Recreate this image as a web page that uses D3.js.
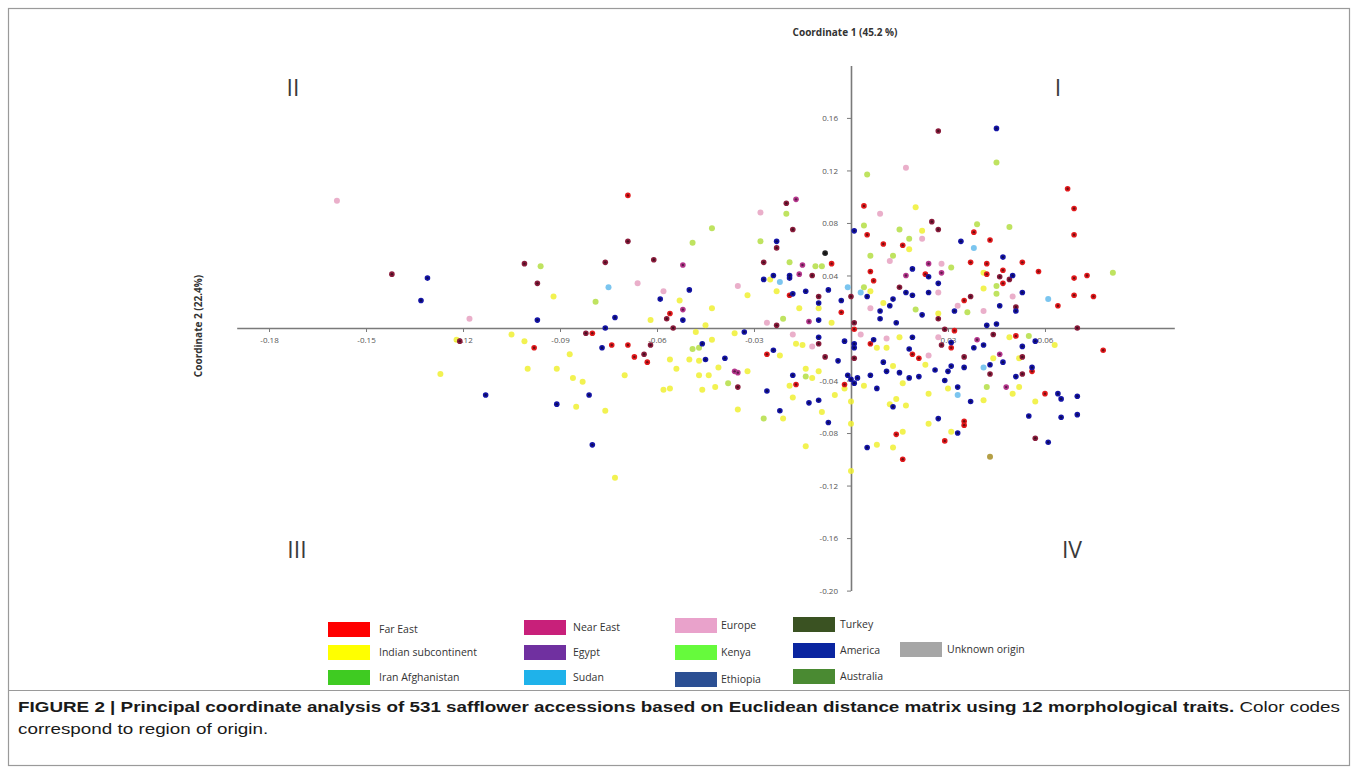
<!DOCTYPE html>
<html>
<head>
<meta charset="utf-8">
<script src="https://cdn.jsdelivr.net/npm/d3@7"></script>
<style>
  body { margin: 0; background: #fff; }
  svg { display: block; }
</style>
</head>
<body>
<svg id="chart" width="1358" height="775"></svg>
<script>
// tick labels of the two coordinate axes
var xTicks = [-0.18, -0.15, -0.12, -0.09, -0.06, -0.03, 0.03, 0.06];
var yTicks = [0.16, 0.12, 0.08, 0.04, -0.04, -0.08, -0.12, -0.16, -0.20];

// legend entries (region of origin)
var regions = ["Far East", "Indian subcontinent", "Iran Afghanistan",
               "Near East", "Egypt", "Sudan",
               "Europe", "Kenya", "Ethiopia",
               "Turkey", "America", "Australia",
               "Unknown origin"];
var regionColors = ["#ff0000", "#ffff00", "#3fcb22",
                    "#c8207a", "#7030a0", "#1fb2ea",
                    "#e9a2cb", "#66fa3c", "#2b4f93",
                    "#3a5222", "#0a25a0", "#4a8a32",
                    "#a6a6a6"];

// PCoA scores, [coord1, coord2]
var farEast = [[-0.098,-0.015],[-0.080,-0.004],[-0.074,-0.013],[-0.069,-0.013],[-0.067,-0.022],[-0.063,-0.026],[-0.069,0.101],[-0.056,0.011],
  [0.067,0.106],[0.069,0.091],[0.069,0.071],[0.069,0.038],[0.073,0.040],[0.069,0.025],[0.075,0.024],[0.064,0.017],[0.058,0.043],[0.053,0.050],
  [0.047,0.044],[0.047,0.034],[0.043,0.067],[0.042,0.049],[0.042,0.041],[0.038,0.073],[0.037,0.050],[0.035,0.021],[0.023,0.041],[0.016,0.063],
  [0.004,0.093],[0.005,0.071],[0.010,0.064],[0.006,0.043],[0.007,0.036],[-0.006,0.049],[-0.019,0.025],[-0.003,0.012],
  [-0.026,-0.020],[0.001,-0.001],[-0.017,-0.043],[-0.002,-0.043],[0.014,-0.081],[0.016,-0.100],[0.006,-0.012],[0.019,-0.020],[0.021,-0.023],
  [0.029,-0.086],[0.035,-0.074],[0.035,-0.071],[0.031,-0.015],[0.032,-0.002],[0.051,-0.006],[0.056,-0.033],[0.060,-0.050],[0.078,-0.017]];
var nearEast = [[-0.142,0.041],[-0.101,0.049],[-0.097,0.034],[-0.069,0.066],[-0.076,0.050],[-0.061,0.052],[-0.057,0.007],[-0.055,0.000],
  [-0.121,-0.010],[-0.082,-0.004],[-0.064,-0.020],[-0.062,-0.013],
  [0.027,0.150],[0.070,0.000],[0.049,0.037],[0.046,0.039],[0.051,0.016],[0.037,0.024],[0.025,0.081],[0.027,0.075],[0.027,0.007],[0.015,0.031],
  [0.000,0.024],[0.001,0.004],[-0.020,0.095],[-0.018,0.075],[-0.023,0.061],[-0.027,0.050],[-0.012,0.040],[-0.010,0.024],[-0.023,0.002],
  [-0.010,-0.012],[-0.008,-0.022],[0.001,-0.023],[-0.035,-0.045],[0.028,-0.013],[0.029,-0.001],[0.035,-0.022],[0.044,-0.005],[0.043,-0.035],
  [0.053,-0.035],[0.053,-0.022],[0.057,-0.084]];
var egypt = [[-0.052,0.048],[-0.052,0.014],[-0.036,-0.033],[-0.035,-0.034],[0.028,0.042],[0.024,0.049],[0.017,0.040],[-0.017,0.098],
  [-0.015,0.048],[-0.016,0.041],[-0.013,0.005],[0.039,-0.009],[0.046,-0.020],[0.048,-0.045]];
var america = [[-0.131,0.038],[-0.133,0.021],[-0.097,0.006],[-0.073,0.008],[-0.076,0.000],[-0.059,0.022],[-0.050,0.029],[-0.052,0.006],
  [-0.113,-0.051],[-0.091,-0.058],[-0.081,-0.051],[-0.080,-0.089],[-0.077,-0.015],[-0.046,-0.012],[-0.045,-0.024],[-0.039,-0.023],
  [0.045,0.152],[0.047,0.054],[0.050,0.040],[0.053,0.027],[0.046,0.017],[0.051,0.013],[0.034,0.066],[0.032,0.013],[0.045,0.003],[0.042,0.002],
  [0.027,0.034],[0.024,0.039],[0.024,0.027],[0.022,0.010],[0.019,0.025],[0.019,0.045],[0.017,0.027],[0.001,0.074],[0.005,0.024],[0.013,0.022],
  [0.012,0.017],[0.009,0.013],[0.009,0.007],[0.014,0.004],
  [-0.023,0.066],[-0.027,0.037],[-0.024,0.040],[-0.019,0.040],[-0.019,0.038],[-0.018,0.026],[-0.014,0.028],[-0.007,0.029],[-0.003,0.021],
  [-0.010,0.019],[-0.010,0.006],
  [-0.033,-0.003],[-0.024,-0.017],[-0.010,-0.007],[-0.004,-0.025],[-0.002,-0.010],[0.001,-0.015],[0.001,-0.012],[-0.026,-0.048],[-0.022,-0.063],
  [-0.018,-0.036],[-0.013,-0.057],[-0.010,-0.055],[-0.007,-0.072],[-0.001,-0.036],[0.000,-0.039],[0.002,-0.038],[0.001,-0.042],[0.005,-0.091],
  [0.013,-0.060],[0.006,-0.036],[0.008,-0.046],[0.007,-0.009],[0.010,-0.026],[0.011,-0.033],[0.015,-0.034],[0.018,-0.038],[0.021,-0.037],
  [0.019,-0.007],[0.018,-0.016],[0.026,-0.032],[0.030,-0.033],[0.031,-0.029],[0.029,-0.040],[0.033,-0.045],[0.037,-0.056],[0.027,-0.069],
  [0.033,-0.080],[0.031,-0.011],[0.035,-0.030],[0.038,-0.015],[0.041,-0.013],[0.043,-0.028],[0.047,-0.026],[0.051,-0.037],[0.053,-0.014],
  [0.057,-0.010],[0.056,-0.030],[0.064,-0.050],[0.065,-0.054],[0.070,-0.052],[0.055,-0.067],[0.065,-0.068],[0.070,-0.066],[0.061,-0.087]];
var indian = [[-0.092,0.024],[-0.062,0.006],[-0.053,0.021],[-0.043,0.015],[-0.045,0.002],
  [-0.122,-0.009],[-0.127,-0.035],[-0.105,-0.005],[-0.101,-0.010],[-0.100,-0.031],[-0.091,-0.031],[-0.087,-0.020],[-0.086,-0.038],[-0.083,-0.041],
  [-0.085,-0.060],[-0.076,-0.063],[-0.073,-0.114],[-0.070,-0.036],[-0.056,-0.024],[-0.054,-0.031],[-0.058,-0.047],[-0.056,-0.046],[-0.048,-0.003],
  [-0.043,-0.009],[-0.050,-0.024],[-0.047,-0.025],[-0.041,-0.030],[-0.047,-0.036],[-0.044,-0.036],[-0.046,-0.047],[-0.042,-0.045],[-0.035,-0.062],
  [0.041,0.042],[0.041,0.030],[0.027,0.011],[0.020,0.092],[0.022,0.074],[0.018,0.060],[0.006,0.028],[0.010,0.019],
  [-0.025,0.037],[-0.032,0.025],[-0.023,0.028],[-0.016,0.015],[-0.010,0.015],[-0.006,0.004],
  [-0.036,-0.004],[-0.022,-0.021],[-0.017,-0.012],[-0.015,-0.013],[-0.032,-0.033],[-0.021,-0.069],[-0.019,-0.044],[-0.018,-0.053],[-0.012,-0.038],
  [-0.014,-0.031],[-0.010,-0.033],[-0.009,-0.064],[-0.005,-0.051],[-0.014,-0.090],[-0.002,-0.046],[0.000,-0.056],[0.000,-0.073],[0.000,-0.109],
  [0.008,-0.089],[0.013,-0.091],[0.016,-0.079],[0.012,-0.058],[0.017,-0.059],[0.014,-0.054],[0.004,-0.044],[0.008,-0.015],[0.011,-0.015],
  [0.013,-0.029],[0.016,-0.042],[0.015,-0.007],[0.023,-0.028],[0.030,-0.046],[0.024,-0.050],[0.024,-0.073],[0.031,-0.079],[0.044,-0.023],
  [0.041,-0.055],[0.050,-0.050],[0.052,-0.045],[0.052,-0.023],[0.049,-0.007],[0.063,-0.013],[0.057,-0.056]];
var kenya = [[-0.096,0.047],[-0.043,0.076],[-0.049,0.065],[-0.079,0.020],[-0.049,-0.016],[-0.047,-0.015],[-0.038,-0.042],
  [0.045,0.126],[0.005,0.117],[0.081,0.042],[0.049,0.077],[0.045,0.032],[0.045,0.026],[0.039,0.079],[0.036,0.012],[0.031,0.046],[0.020,0.014],
  [0.018,0.068],[0.015,0.075],[0.004,0.078],[0.013,0.055],[0.006,0.055],[0.004,0.031],
  [-0.020,0.087],[-0.028,0.066],[-0.019,0.050],[-0.011,0.047],[-0.009,0.047],[-0.021,0.007],
  [-0.027,-0.069],[-0.014,-0.037],[0.042,-0.045],[0.055,-0.006]];
var europe = [[-0.159,0.097],[-0.118,0.007],[-0.066,0.034],[-0.058,0.028],[-0.035,0.032],
  [0.017,0.122],[0.050,0.024],[0.033,0.017],[0.041,0.013],[0.028,0.049],[0.027,0.027],[0.022,0.068],[0.009,0.087],[0.012,0.051],[0.006,0.015],
  [-0.028,0.088],[-0.026,0.004],[-0.018,-0.005],[-0.012,-0.014],[0.003,-0.005],[0.011,-0.008],[0.024,-0.021],[0.027,-0.007]];
var sudan = [[-0.075,0.031],[0.061,0.022],[0.038,0.061],[0.003,0.027],[-0.022,0.035],[-0.001,0.031],[0.033,-0.051],[0.041,-0.030]];
var turkey = [[-0.008,0.057]];
var unknown = [[0.043,-0.098]];

// how each group of dots is painted (light ones first, dark ones on top)
var groups = [
  {pts: indian,   fill: "#f0f032", op: 0.85, core: false},
  {pts: kenya,    fill: "#b4de44", op: 0.85, core: false},
  {pts: europe,   fill: "#e8a6c4", op: 0.9,  core: false},
  {pts: sudan,    fill: "#74c2ee", op: 0.95, core: false},
  {pts: unknown,  fill: "#b09a3c", op: 0.95, core: false},
  {pts: egypt,    fill: "#b5368c", op: 1,    core: true},
  {pts: nearEast, fill: "#8a1c3c", op: 1,    core: true},
  {pts: farEast,  fill: "#e2191c", op: 1,    core: true},
  {pts: america,  fill: "#1414a6", op: 1,    core: true},
  {pts: turkey,   fill: "#222222", op: 1,    core: true}
];

var svg = d3.select("#chart");
var fontUI = "'Open Sans', 'DejaVu Sans', sans-serif";

// outer frame and caption separator
svg.append("rect").attr("x", 8.5).attr("y", 8.5).attr("width", 1341).attr("height", 757)
  .attr("fill", "none").attr("stroke", "#9a9a9a").attr("stroke-width", 1.2);
svg.append("line").attr("x1", 8.5).attr("x2", 1349.5).attr("y1", 690.5).attr("y2", 690.5)
  .attr("stroke", "#9a9a9a").attr("stroke-width", 1.2);

var x = d3.scaleLinear().domain([-0.19, 0.1]).range([236.7, 1174.3]);
var y = d3.scaleLinear().domain([-0.2, 0.2]).range([590.6, 65.4]);

var fmt = function (d) { return d.toFixed(2); };

var xAxis = svg.append("g")
  .attr("transform", "translate(0," + y(0) + ")")
  .call(d3.axisBottom(x).tickValues(xTicks).tickFormat(fmt).tickSize(4).tickSizeOuter(0).tickPadding(5));
var yAxis = svg.append("g")
  .attr("transform", "translate(" + x(0) + ",0)")
  .call(d3.axisLeft(y).tickValues(yTicks).tickFormat(fmt).tickSize(4).tickSizeOuter(0).tickPadding(9));

[xAxis, yAxis].forEach(function (ax) {
  ax.select(".domain").attr("stroke", "#7a7a7a").attr("stroke-width", 1.6);
  ax.selectAll(".tick line").attr("stroke", "#7a7a7a");
  ax.selectAll(".tick text").attr("fill", "#555").style("font-family", fontUI).style("font-size", "8px");
});

// axis titles
svg.append("text").attr("x", 845).attr("y", 36).attr("text-anchor", "middle")
  .style("font-family", fontUI).style("font-size", "10px").style("font-weight", "bold").attr("fill", "#333")
  .text("Coordinate 1 (45.2 %)");
svg.append("text").attr("transform", "translate(202,326) rotate(-90)").attr("text-anchor", "middle")
  .style("font-family", fontUI).style("font-size", "10px").style("font-weight", "bold").attr("fill", "#333")
  .text("Coordinate 2 (22.4%)");

// quadrant numerals
var quads = [["II", 293, 96], ["I", 1058, 96], ["III", 297, 558], ["IV", 1072, 558]];
svg.selectAll(".quad").data(quads).join("text")
  .attr("x", function (d) { return d[1]; }).attr("y", function (d) { return d[2]; })
  .attr("text-anchor", "middle")
  .style("font-family", fontUI).style("font-size", "23px").attr("fill", "#3a3a3a")
  .text(function (d) { return d[0]; });

// the dots
groups.forEach(function (g) {
  var gg = svg.append("g");
  gg.selectAll("circle").data(g.pts).join("circle")
    .attr("cx", function (d) { return x(d[0]); })
    .attr("cy", function (d) { return y(d[1]); })
    .attr("r", g.core ? 2.8 : 3)
    .attr("fill", g.fill).attr("fill-opacity", g.op);
  if (g.core) {
    gg.selectAll("circle.core").data(g.pts).join("circle").attr("class", "core")
      .attr("cx", function (d) { return x(d[0]); })
      .attr("cy", function (d) { return y(d[1]); })
      .attr("r", 1.2).attr("fill", "#000").attr("fill-opacity", 0.5);
  }
});

// legend (5 columns, irregular placement as in the figure)
var legCols = [328, 524, 675, 793, 900];
var legRows = [[622, 645, 670], [620, 645, 670], [618, 645, 672], [617, 643, 669], [642]];
var legTextGap = [9, 7, 4, 5, 5];
var k = 0;
legCols.forEach(function (cx, ci) {
  legRows[ci].forEach(function (ry) {
    var i = k++;
    svg.append("rect").attr("x", cx).attr("y", ry).attr("width", 42).attr("height", 15)
      .attr("fill", regionColors[i]);
    svg.append("text").attr("x", cx + 42 + legTextGap[ci]).attr("y", ry + 11)
      .style("font-family", fontUI).style("font-size", "10.5px").attr("fill", "#333")
      .text(regions[i]);
  });
});

// caption
var capFont = "'Liberation Sans Narrow', 'Arial Narrow', 'Liberation Sans', Arial, sans-serif";
var cap1 = svg.append("text").attr("x", 18).attr("y", 712)
  .style("font-family", capFont).style("font-size", "15px").attr("fill", "#1a1a1a");
cap1.append("tspan").style("font-weight", "bold")
  .text("FIGURE 2 | Principal coordinate analysis of 531 safflower accessions based on Euclidean distance matrix using 12 morphological traits.");
cap1.append("tspan").text(" Color codes");
var cap2 = svg.append("text").attr("x", 18).attr("y", 734)
  .style("font-family", capFont).style("font-size", "15px").attr("fill", "#1a1a1a")
  .text("correspond to region of origin.");
var w1 = cap1.node().getComputedTextLength();
var ratio = 1322 / w1;
cap1.attr("textLength", 1322).attr("lengthAdjust", "spacingAndGlyphs");
cap2.attr("textLength", cap2.node().getComputedTextLength() * ratio).attr("lengthAdjust", "spacingAndGlyphs");
</script>
</body>
</html>
